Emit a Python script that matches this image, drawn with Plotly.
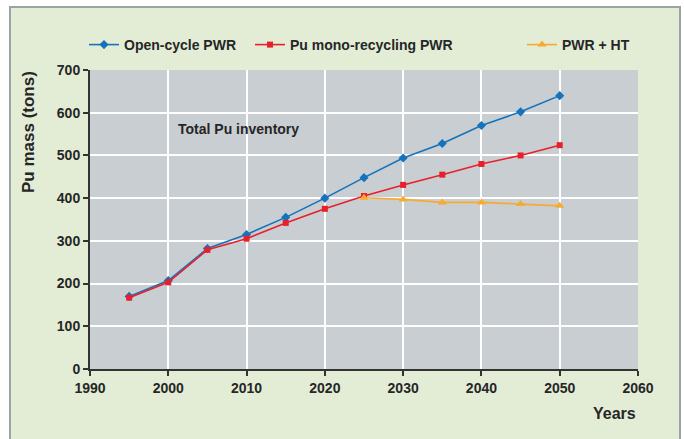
import plotly.graph_objects as go

years_open = [1995, 2000, 2005, 2010, 2015, 2020, 2025, 2030, 2035, 2040, 2045, 2050]
open_cycle = [170, 207, 282, 315, 355, 400, 448, 494, 528, 570, 602, 640]

years_mono = [1995, 2000, 2005, 2010, 2015, 2020, 2025, 2030, 2035, 2040, 2045, 2050]
mono_recycling = [167, 203, 279, 305, 342, 375, 405, 431, 455, 480, 500, 524]

years_ht = [2025, 2030, 2035, 2040, 2045, 2050]
pwr_ht = [401, 397, 390, 390, 386, 382]

x_ticks = [1990, 2000, 2010, 2020, 2030, 2040, 2050, 2060]
y_ticks = [0, 100, 200, 300, 400, 500, 600, 700]

FONT = "Liberation Sans"
BLUE = "#1572bb"
RED = "#e8202c"
ORANGE = "#f8aa30"
TEXT = "#262626"

fig = go.Figure()
fig.add_trace(go.Scatter(
    x=years_open, y=open_cycle, name="Open-cycle PWR", mode="lines+markers",
    line=dict(color=BLUE, width=1.6),
    marker=dict(symbol="diamond", size=7, color=BLUE),
    legend="legend",
))
fig.add_trace(go.Scatter(
    x=years_mono, y=mono_recycling, name="Pu mono-recycling PWR", mode="lines+markers",
    line=dict(color=RED, width=1.6),
    marker=dict(symbol="square", size=6, color=RED),
    legend="legend2",
))
fig.add_trace(go.Scatter(
    x=years_ht, y=pwr_ht, name="PWR + HT", mode="lines+markers",
    line=dict(color=ORANGE, width=1.6),
    marker=dict(symbol="triangle-up", size=8, color=ORANGE),
    legend="legend3",
))

L, R, T, B = 90, 46, 70, 70
W, H = 684, 439
pw, ph = W - L - R, H - T - B

# light green panel framing the whole chart
fig.add_shape(
    type="rect", xref="paper", yref="paper", layer="below",
    x0=(10 - L) / pw, x1=(680 - L) / pw,
    y0=(H - T - 445) / ph, y1=(H - T - 7) / ph,
    fillcolor="#e3edd6", line=dict(color="#9aa3a6", width=2),
)
# grey plotting area
fig.add_shape(
    type="rect", xref="paper", yref="paper", layer="below",
    x0=0, x1=1, y0=0, y1=1,
    fillcolor="#c8ced1", line=dict(width=0),
)

fig.add_annotation(
    x=2001.0, y=562, xref="x", yref="y", text="<b>Total Pu inventory</b>",
    showarrow=False, xanchor="left", yanchor="middle",
    font=dict(family=FONT, size=14, color=TEXT),
)
fig.add_annotation(
    x=1.0, y=-0.115, xref="paper", yref="paper", text="<b>Years</b>",
    showarrow=False, xanchor="right", yanchor="top",
    font=dict(family=FONT, size=16, color=TEXT),
)
# y-axis title, aligned with the top of the axis
fig.add_annotation(
    x=(28 - L) / pw, y=(H - B - 69) / ph, xref="paper", yref="paper",
    text="<b>Pu mass (tons)</b>", textangle=-90,
    showarrow=False, xanchor="center", yanchor="top",
    font=dict(family=FONT, size=17, color=TEXT),
)

legend_common = dict(
    orientation="h", y=(H - T - 45) / ph, yanchor="middle",
    bgcolor="rgba(0,0,0,0)",
    font=dict(family=FONT, size=14, color=TEXT, weight="bold"),
)

fig.update_layout(
    width=W, height=H,
    margin=dict(l=L, r=R, t=T, b=B),
    paper_bgcolor="white",
    plot_bgcolor="#c8ced1",
    font=dict(family=FONT, color=TEXT),
    showlegend=True,
    legend=dict(x=(84 - L) / pw, xanchor="left", **legend_common),
    legend2=dict(x=(250 - L) / pw, xanchor="left", **legend_common),
    legend3=dict(x=(522 - L) / pw, xanchor="left", **legend_common),
    xaxis=dict(
        range=[1990, 2060], tickvals=x_ticks, ticktext=[str(v) for v in x_ticks],
        showgrid=True, gridcolor="white", gridwidth=1.5,
        showline=True, linecolor="#333", linewidth=2,
        ticks="outside", tickcolor="#333", ticklen=5, tickwidth=1.5,
        tickfont=dict(family=FONT, size=14, color=TEXT, weight="bold"),
        zeroline=False,
    ),
    yaxis=dict(
        range=[0, 700], tickvals=y_ticks, ticktext=[str(v) for v in y_ticks],
        showgrid=True, gridcolor="white", gridwidth=2,
        showline=True, linecolor="#333", linewidth=2,
        ticks="outside", tickcolor="#333", ticklen=5, tickwidth=1.5,
        tickfont=dict(family=FONT, size=14, color=TEXT, weight="bold"),
        zeroline=False,
    ),
)

fig.write_html("out.html")
